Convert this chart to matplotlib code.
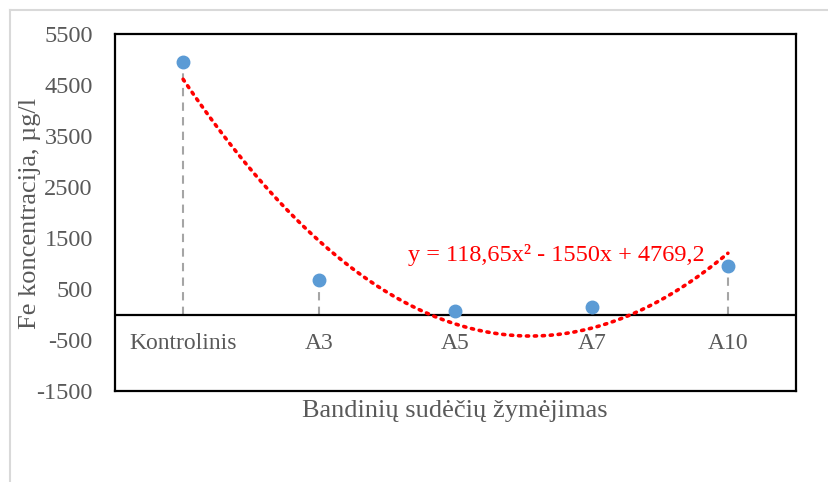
import numpy as np
import matplotlib.pyplot as plt
from matplotlib.lines import Line2D

### Duomenys
categories = ['Kontrolinis', 'A3', 'A5', 'A7', 'A10']
fe_values = [4950, 680, 70, 150, 950]
y_ticks = [-1500, -500, 500, 1500, 2500, 3500, 4500, 5500]
equation = 'y = 118,65x\u00b2 - 1550x + 4769,2'

plt.rcParams['font.family'] = ['Liberation Serif', 'DejaVu Serif']
grey = '#595959'

fig = plt.figure(figsize=(8.29, 4.82), dpi=100)
ax = fig.add_axes([115/829, 1 - 391/482, 681/829, 357/482])

x = np.arange(len(categories))
y = np.array(fe_values)

### Trendline (polinominė, 2 laipsnio)
coef = np.polyfit(x, y, 2)
xs = np.linspace(x[0], x[-1], 200)
ax.plot(xs, np.polyval(coef, xs), color='#ff0000', linestyle=(0, (0.6, 1.6)),
        linewidth=2.6, dash_capstyle='round', zorder=3)

### Drop lines
for xi, yi in zip(x, y):
    ax.plot([xi, xi], [0, yi], color='#a5a5a5', linestyle=(0, (4, 3)), linewidth=1.5, zorder=1)

ax.plot(x, y, 'o', color='#5b9bd5', markersize=9, zorder=4)

ax.axhline(0, color='black', linewidth=1.6, zorder=2)

ax.set_xlim(-0.5, len(categories) - 0.5)
ax.set_ylim(-1500, 5500)
ax.set_yticks(y_ticks)
ax.set_yticklabels([str(t) for t in y_ticks])
ax.tick_params(axis='y', length=0, pad=16, labelsize=17.5, labelcolor=grey)
ax.set_xticks([])
for spine in ax.spines.values():
    spine.set_linewidth(1.6)
    spine.set_color('black')

for xi, name in zip(x, categories):
    ax.text(xi, -560, name, ha='center', va='center', fontsize=17, color=grey)

ax.text(1.65, 1170, equation, ha='left', va='center', fontsize=17.5, color='#ff0000')

fig.text(30/829, 1 - 213/482, 'Fe koncentracija, \u00b5g/l', rotation=90,
         ha='center', va='center', fontsize=19, color=grey)
fig.text(455/829, 1 - 411/482, 'Bandinių sudėčių žymėjimas',
         ha='center', va='center', fontsize=19, color=grey)

### Išorinis rėmelis
fig.add_artist(Line2D([10/829, 1], [1 - 10/482, 1 - 10/482], color='#d9d9d9', linewidth=1.5))
fig.add_artist(Line2D([10/829, 10/829], [0, 1 - 10/482], color='#d9d9d9', linewidth=1.5))

fig.savefig('out.png', dpi=100)
